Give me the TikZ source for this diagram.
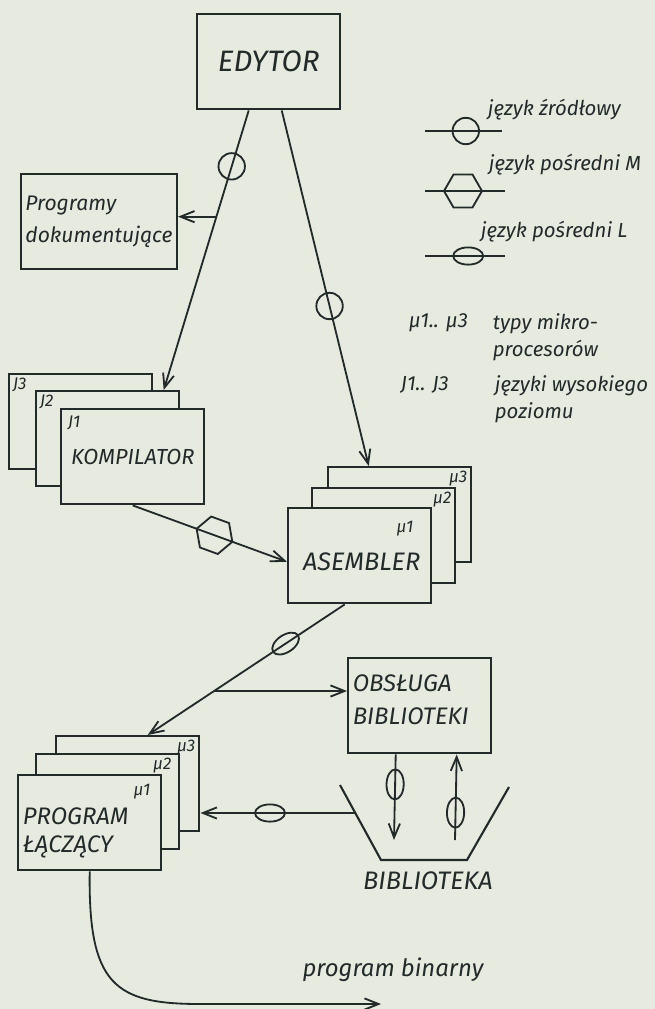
\documentclass[tikz,border=0pt]{standalone}
\usepackage{fontspec}
\setmainfont{Fira Sans}
\usetikzlibrary{shapes.geometric,arrows.meta,calc}

\definecolor{paper}{RGB}{231,234,223}
\definecolor{ink}{RGB}{34,42,42}

\tikzset{
  box/.style={draw, line width=1.7pt, fill=paper, minimum width=3.575cm,
    minimum height=2.375cm, inner sep=3pt, align=left,
    font=\fontsize{18}{22}\selectfont\itshape},
  boxtxt/.style={inner sep=0pt, align=left},
  tag/.style={inner sep=3pt, font=\fontsize{12}{14}\selectfont\itshape},
  legtxt/.style={inner sep=0pt, align=left, font=\fontsize{14.5}{19}\selectfont\itshape},
  srcmark/.style={circle, draw, line width=1.3pt, minimum size=0.66cm, inner sep=0pt},
  midM/.style={regular polygon, regular polygon sides=6, draw, line width=1.3pt,
    minimum size=0.95cm, inner sep=0pt, sloped},
  midL/.style={ellipse, draw, line width=1.3pt, minimum width=0.75cm,
    minimum height=0.43cm, inner sep=0pt, sloped},
}

\begin{document}
\begin{tikzpicture}[x=0.025cm,y=-0.025cm,color=ink,line width=1.3pt,
    >={Straight Barb[length=10pt,width=8pt]}]
  \useasboundingbox (0,0) rectangle (655,1009);
  \fill[paper] (0,0) rectangle (655,1009);

  % Editor and documentation
  \node[box, anchor=north west, font=\fontsize{21}{25}\selectfont\itshape] (edytor) at (196,13) {EDYTOR};
  \node[box, anchor=north west, font=\fontsize{15}{23}\selectfont\itshape] (doc) at (20,173)
    {Programy\\dokumentujące};

  % Compiler stack J1..J3
  \node[box, anchor=north west] (j3) at (8,373) {};
  \node[box, anchor=north west] (j2) at (35,390) {};
  \node[box, anchor=north west, font=\fontsize{15.5}{18}\selectfont\itshape] (j1) at (60,408) {KOMPILATOR};
  \node[tag, anchor=north west] (lj3) at (j3.north west) {J3};
  \node[tag, anchor=north west] (lj2) at (j2.north west) {J2};
  \node[tag, anchor=north west] (lj1) at ($(j1.north west)+(3,3)$) {J1};

  % Assembler stack mu1..mu3
  \node[box, anchor=north west] (asm3) at (327,466) {};
  \node[box, anchor=north west] (asm2) at (311,487) {};
  \node[box, anchor=north west] (asm1) at (287,507) {};
  \node[boxtxt, font=\fontsize{18}{22}\selectfont\itshape] (asmtxt) at ($(asm1.center)+(2,6)$) {ASEMBLER};
  \node[tag, anchor=north east] (la3) at (asm3.north east) {μ3};
  \node[tag, anchor=north east] (la2) at (asm2.north east) {μ2};
  \node[tag, anchor=north east] (la1) at ($(asm1.north east)+(-14,9)$) {μ1};

  % Library service
  \node[box, anchor=north west] (obs) at (347,657) {};
  \node[boxtxt, font=\fontsize{17}{23}\selectfont\itshape] (obstxt) at ($(obs.center)+(-9,-6)$)
    {OBSŁUGA\\BIBLIOTEKI};

  % Linker stack mu1..mu3
  \node[box, anchor=north west] (plc3) at (55,735) {};
  \node[box, anchor=north west] (plc2) at (35,753) {};
  \node[box, anchor=north west] (plc1) at (17,774) {};
  \node[boxtxt, font=\fontsize{17}{20}\selectfont\itshape] (plctxt) at ($(plc1.center)+(-14,10)$)
    {PROGRAM\\ŁĄCZĄCY};
  \node[tag, anchor=north east] (lp3) at (plc3.north east) {μ3};
  \node[tag, anchor=north east] (lp2) at ($(plc2.north east)+(-4,0)$) {μ2};
  \node[tag, anchor=north east] (lp1) at ($(plc1.north east)+(-7,5)$) {μ1};

  % Library container (open at the top)
  \coordinate (bibTL) at (340,785);
  \coordinate (bibBL) at (381,860);
  \coordinate (bibBR) at (467,860);
  \coordinate (bibTR) at (509,787);
  \draw[line width=1.5pt] (bibTL) -- (bibBL) -- (bibBR) -- (bibTR);
  \node[font=\fontsize{18}{22}\selectfont\itshape] (bibl) at (428,881) {BIBLIOTEKA};
  \coordinate (binL) at (394,840);
  \coordinate (binR) at (455,840);
  \coordinate (bibIn) at (355,813);
  \coordinate (bin) at (381,1004);

  % Flow arrows
  \draw[->] ($(edytor.south)+(-20,0)$) -- node[srcmark, pos=0.2] (s1) {}
    coordinate[pos=0.38] (br) ($(j2.north)+(56,0)$);
  \draw[->] (br) -- (br -| doc.east);
  \draw[->] ($(edytor.south)+(13,0)$) -- node[srcmark, pos=0.55] (s2) {} ($(asm3.north)+(-31,0)$);
  \draw[->] (j1.south) -- node[midM, pos=0.53] (m1) {} ($(asm1.west)+(0,6)$);
  \draw[->] ($(asm1.south)+(-15,0)$) -- node[midL, pos=0.3] (l1) {}
    coordinate[pos=0.663] (jn) ($(plc3.north)+(20,0)$);
  \draw[->] (jn) -- (jn -| obs.west);
  \draw[->] ($(obs.south)+(-24,0)$) -- node[midL, pos=0.35] (l2) {} (binL);
  \draw[->] (binR) -- node[midL, pos=0.32] (l3) {} ($(obs.south)+(37,0)$);
  \draw[->] (bibIn) -- node[midL, pos=0.55] (l4) {} (bibIn -| plc3.east);
  \draw[->] (plc1.south) .. controls (88,985) and (115,1004) .. (200,1004) -- (bin);
  \node[font=\fontsize{17}{21}\selectfont\itshape] (binlbl) at (393,970) {program binarny};

  % Legend
  \coordinate (lg1a) at (425,131);
  \coordinate (lg1b) at (502,131);
  \draw (lg1a) -- node[srcmark, pos=0.53] (lg1) {} (lg1b);
  \coordinate (lg2a) at (425,191);
  \coordinate (lg2b) at (505,191);
  \draw (lg2a) -- node[midM, pos=0.475] (lg2) {} (lg2b);
  \coordinate (lg3a) at (425,256);
  \coordinate (lg3b) at (505,256);
  \draw (lg3a) -- node[midL, pos=0.54] (lg3) {} (lg3b);
  \node[legtxt, anchor=west] (t1) at (487,110) {język źródłowy};
  \node[legtxt, anchor=west] (t2) at (488,165) {język pośredni M};
  \node[legtxt, anchor=west] (t3) at (480,232) {język pośredni L};
  \node[legtxt, anchor=west] (t4) at (408,323) {μ1.. μ3};
  \node[legtxt, anchor=west] (t5) at (492,337) {typy mikro-\\procesorów};
  \node[legtxt, anchor=west] (t6) at (400,385) {J1.. J3};
  \node[legtxt, anchor=west] (t7) at (494,399) {języki wysokiego\\poziomu};
\end{tikzpicture}
\end{document}
